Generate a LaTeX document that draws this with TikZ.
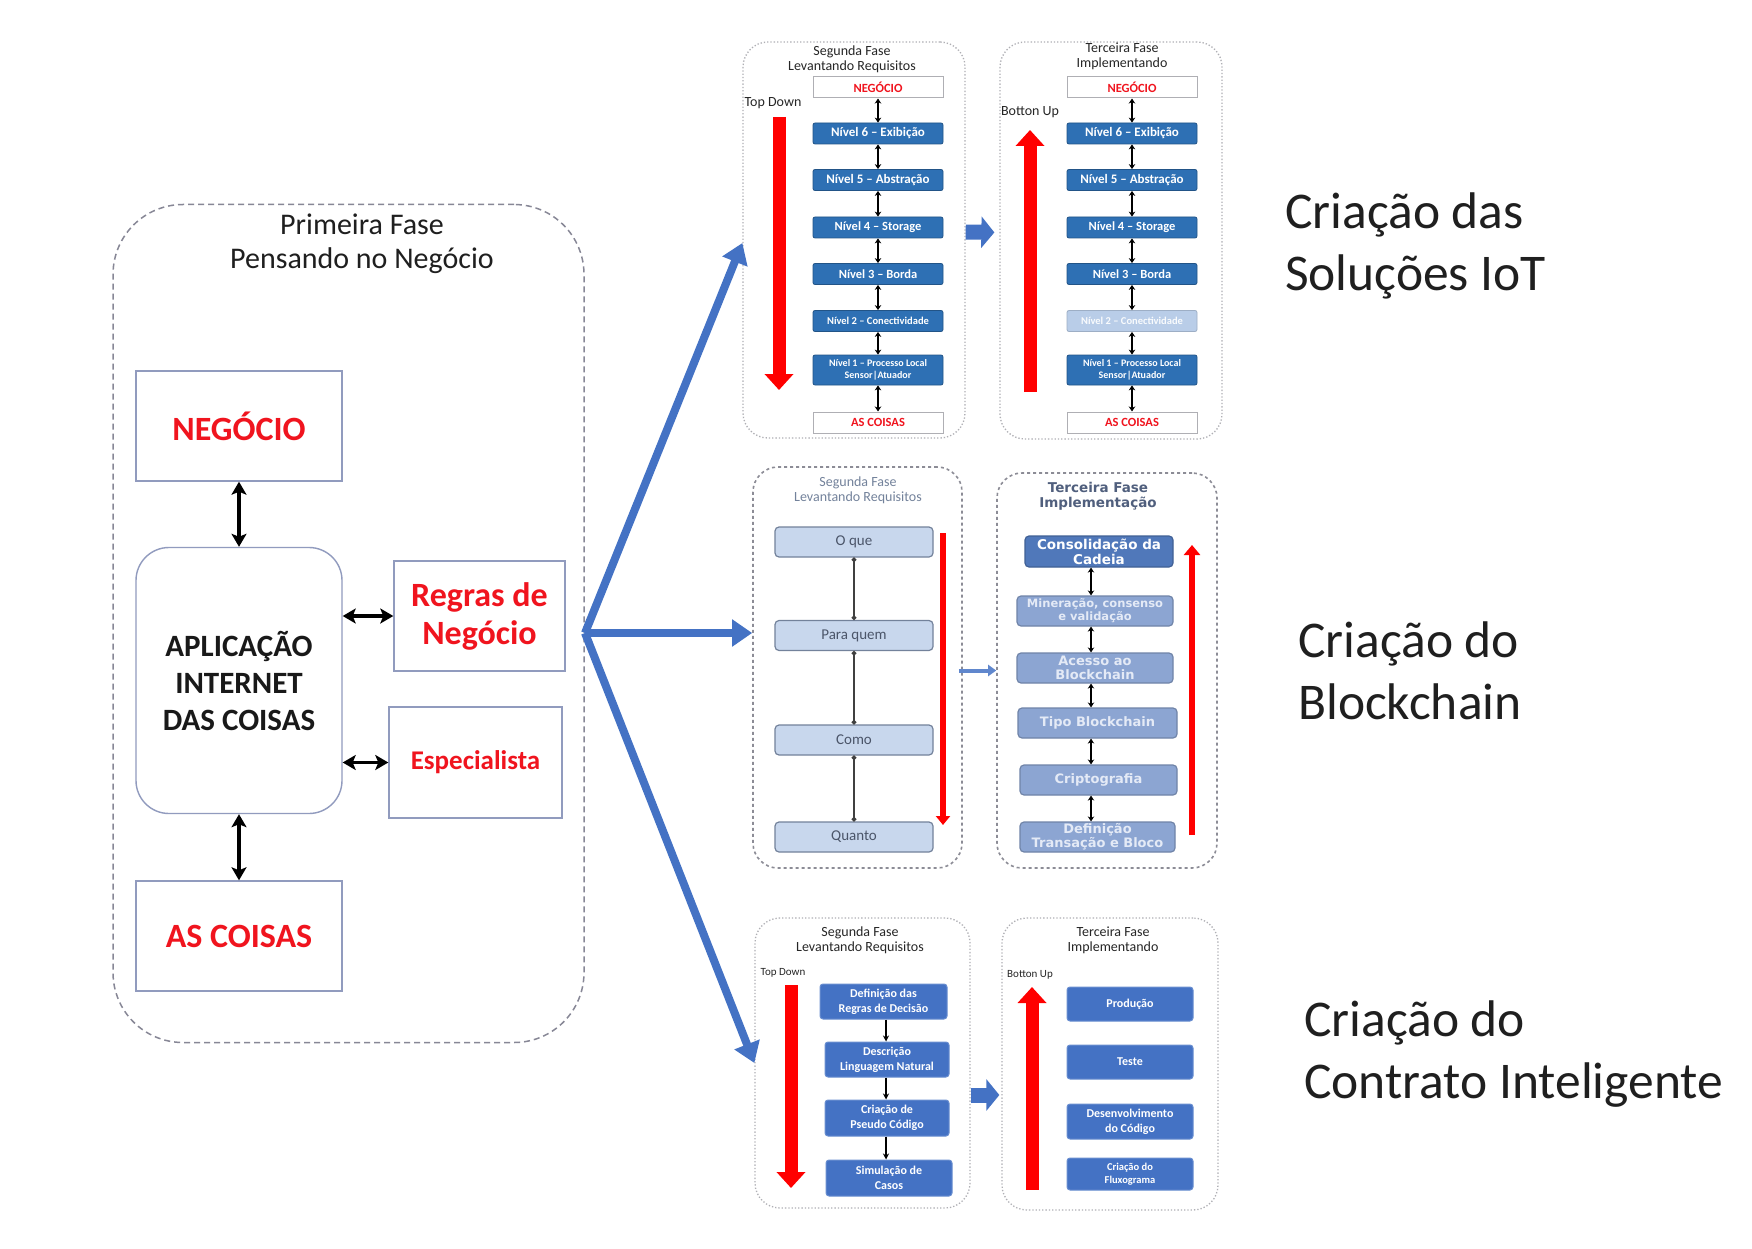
\documentclass[tikz,border=0pt]{standalone}
\usepackage{fontspec}
\setmainfont{Carlito}
\newfontfamily\dvs{DejaVu Sans}
\usetikzlibrary{arrows.meta,calc}
\newcommand\fsz[2]{\fontsize{#1}{#2}\selectfont}
\definecolor{redt}{RGB}{240,20,30}
\definecolor{redA}{RGB}{255,0,0}
\definecolor{lbord}{RGB}{145,155,190}
\definecolor{bigdash}{RGB}{135,135,150}
\definecolor{pgray}{RGB}{175,175,180}
\definecolor{pgrayD}{RGB}{140,140,150}
\definecolor{fanblue}{RGB}{68,114,196}
\definecolor{nblue}{RGB}{46,112,180}
\definecolor{nfade}{RGB}{185,205,232}
\definecolor{gblue}{RGB}{68,114,196}
\definecolor{cfill}{RGB}{200,215,237}
\definecolor{cdraw}{RGB}{115,130,155}
\definecolor{ctext}{RGB}{75,85,105}
\definecolor{efill}{RGB}{80,120,186}
\definecolor{efade}{RGB}{140,165,210}
\definecolor{etext}{RGB}{228,234,246}
\definecolor{ttl4}{RGB}{80,95,125}
\begin{document}
\begin{tikzpicture}[x=1pt,y=-1pt,
  bigpanel/.style={draw=bigdash, dash pattern=on 6pt off 4pt, line width=1.5pt, rounded corners=70pt, inner sep=0pt},
  lbox/.style={draw=lbord, line width=1.4pt, inner sep=0pt, align=center, text=redt},
  barrow/.style={line width=3.5pt, {Stealth[length=13pt,width=15pt,inset=3pt]}-{Stealth[length=13pt,width=15pt,inset=3pt]}},
  fanarrow/.style={draw=fanblue, line width=8pt, -{Triangle[length=20pt,width=26pt]}},
  blockarrow/.style={draw=fanblue, line width=15pt, -{Triangle[length=13pt,width=31pt]}},
  thinblue/.style={draw=fanblue!85, line width=4pt, -{Triangle[length=8pt,width=11pt]}},
  panelL/.style={draw=pgray, dotted, line width=1.3pt, rounded corners=25pt, inner sep=0pt},
  panelD/.style={draw=pgrayD, dash pattern=on 3pt off 3pt, line width=1.6pt, rounded corners=25pt, inner sep=0pt},
  ttl/.style={align=center, font=\fsz{14}{15}, text=black!85, inner sep=0pt},
  lbl/.style={font=\fsz{14}{15}, text=black!85, inner sep=0pt},
  nbox/.style={fill=nblue, draw=nblue!75!black, line width=0.8pt, rounded corners=2pt, text=white, font=\bfseries\fsz{13}{14}, align=center, inner sep=0pt, minimum width=130pt, minimum height=21pt},
  wbox/.style={fill=white, draw=pgray, line width=1pt, text=redt, font=\bfseries\fsz{12.5}{14}, inner sep=0pt, minimum width=130pt, minimum height=21pt},
  sarrow/.style={line width=2pt, {Stealth[length=5pt,width=6.5pt]}-{Stealth[length=5pt,width=6.5pt]}},
  redbig/.style={draw=redA, line width=13pt, -{Triangle[length=16pt,width=28pt]}},
  redthin/.style={draw=redA, line width=6pt, -{Triangle[length=9pt,width=14pt]}},
  cbox/.style={fill=cfill, draw=cdraw, line width=1.2pt, rounded corners=4pt, text=ctext, font=\fsz{15}{16}, inner sep=0pt, minimum width=158pt, minimum height=30pt},
  dotline/.style={draw=black!75, line width=1.8pt, {Circle[length=4.5pt]}-{Circle[length=4.5pt]}},
  ebox/.style={fill=efade, draw=efade!80!black, line width=1.2pt, rounded corners=4pt, text=etext, font=\dvs\bfseries\fsz{13}{14}, align=center, inner sep=0pt, minimum height=30pt},
  gbox/.style={fill=gblue, draw=gblue!80!white, line width=1pt, rounded corners=3pt, text=white, font=\bfseries\fsz{12}{15}, align=center, inner sep=0pt},
  darrow/.style={line width=1.8pt, -{Stealth[length=6pt,width=6pt]}},
  rtxt/.style={font=\fsz{51.5}{62}, align=left, inner sep=0pt, text=black!88, anchor=west}
]
\fill[white] (0,0) rectangle (1752,1249);
\useasboundingbox (0,0) rectangle (1752,1249);

% ---------- first phase ----------
\node[bigpanel, minimum width=471pt, minimum height=838pt] (p0) at (348.5,623.5) {};
\node[align=center, font=\fsz{30}{34}, text=black!88, inner sep=0pt] (t0) at (362,244) {Primeira Fase\\Pensando no Negócio};
\node[lbox, font=\bfseries\fsz{34}{38}, minimum width=206pt, minimum height=110pt] (neg) at (239,426) {NEGÓCIO};
\node[lbox, rounded corners=33pt, text=black!90, font=\bfseries\fsz{31}{37}, minimum width=206pt, minimum height=266pt] (app) at (239,680.5) {APLICAÇÃO\\INTERNET\\DAS COISAS};
\node[lbox, font=\bfseries\fsz{34}{38}, minimum width=171pt, minimum height=110pt] (reg) at (479.5,616) {Regras de\\Negócio};
\node[lbox, font=\bfseries\fsz{27}{30}, minimum width=173pt, minimum height=111pt] (esp) at (475.5,762.5) {Especialista};
\node[lbox, font=\bfseries\fsz{34}{38}, minimum width=206pt, minimum height=110pt] (coi) at (239,936) {AS COISAS};
\draw[barrow] (neg) -- (app);
\draw[barrow] (app.east |- reg.west) -- (reg.west);
\draw[barrow] (app.east |- esp.west) -- (esp.west);
\draw[barrow] (app) -- (coi);

% ---------- panel 1 ----------
\node[panelL, minimum width=222pt, minimum height=396pt] (p1) at (854,240) {};
\node[ttl] (p1t) at (852,59.5) {Segunda Fase\\Levantando Requisitos};
\node[lbl] (p1l) at (773,103) {Top Down};
\coordinate (p1a) at (779,117); \coordinate (p1b) at (779,390);
\draw[redbig] (p1a) -- (p1b);
\node[wbox] (a0) at (878,87.5) {NEGÓCIO};
\node[nbox] (a6) at (878,133.5) {Nível 6 – Exibição};
\node[nbox] (a5) at (878,180) {Nível 5 – Abstração};
\node[nbox, font=\bfseries\fsz{12.5}{14}] (a4) at (878,227.5) {Nível 4 – Storage};
\node[nbox, font=\bfseries\fsz{12.5}{14}] (a3) at (878,274) {Nível 3 – Borda};
\node[nbox, font=\bfseries\fsz{10.5}{12}] (a2) at (878,321) {Nível 2 – Conectividade};
\node[nbox, minimum height=30pt, font=\bfseries\fsz{10}{12}] (a1) at (878,370) {Nível 1 – Processo Local\\Sensor|Atuador};
\node[wbox] (a7) at (878,422.5) {AS COISAS};
\draw[sarrow] (a0) -- (a6);
\draw[sarrow] (a6) -- (a5);
\draw[sarrow] (a5) -- (a4);
\draw[sarrow] (a4) -- (a3);
\draw[sarrow] (a3) -- (a2);
\draw[sarrow] (a2) -- (a1);
\draw[sarrow] (a1) -- (a7);

% ---------- panel 2 ----------
\node[panelL, minimum width=222pt, minimum height=397pt] (p2) at (1111,240.5) {};
\node[ttl] (p2t) at (1122,56) {Terceira Fase\\Implementando};
\node[lbl] (p2l) at (1030,112) {Botton Up};
\coordinate (p2a) at (1030,392); \coordinate (p2b) at (1030,130);
\draw[redbig] (p2a) -- (p2b);
\node[wbox] (b0) at (1132,87.5) {NEGÓCIO};
\node[nbox] (b6) at (1132,133.5) {Nível 6 – Exibição};
\node[nbox] (b5) at (1132,180) {Nível 5 – Abstração};
\node[nbox, font=\bfseries\fsz{12.5}{14}] (b4) at (1132,227.5) {Nível 4 – Storage};
\node[nbox, font=\bfseries\fsz{12.5}{14}] (b3) at (1132,274) {Nível 3 – Borda};
\node[nbox, fill=nfade, draw=nfade!85!black, text=white!92!nfade, font=\bfseries\fsz{10.5}{12}] (b2) at (1132,321) {Nível 2 – Conectividade};
\node[nbox, minimum height=30pt, font=\bfseries\fsz{10}{12}] (b1) at (1132,370) {Nível 1 – Processo Local\\Sensor|Atuador};
\node[wbox] (b7) at (1132,422.5) {AS COISAS};
\draw[sarrow] (b0) -- (b6);
\draw[sarrow] (b6) -- (b5);
\draw[sarrow] (b5) -- (b4);
\draw[sarrow] (b4) -- (b3);
\draw[sarrow] (b3) -- (b2);
\draw[sarrow] (b2) -- (b1);
\draw[sarrow] (b1) -- (b7);

% ---------- panel 3 ----------
\node[panelD, minimum width=209pt, minimum height=401pt] (p3) at (857.5,667.5) {};
\node[ttl, text=cdraw] (p3t) at (858,490) {Segunda Fase\\Levantando Requisitos};
\node[cbox] (c1) at (854,542) {O que};
\node[cbox] (c2) at (854,635.5) {Para quem};
\node[cbox] (c3) at (854,740) {Como};
\node[cbox] (c4) at (854,837) {Quanto};
\draw[dotline] (c1) -- (c2);
\draw[dotline] (c2) -- (c3);
\draw[dotline] (c3) -- (c4);
\coordinate (p3a) at (943,533); \coordinate (p3b) at (943,825);
\draw[redthin] (p3a) -- (p3b);

% ---------- panel 4 ----------
\node[panelD, minimum width=220pt, minimum height=395pt] (p4) at (1107,670.5) {};
\node[align=center, inner sep=0pt, text=ttl4, font=\dvs\bfseries\fsz{13.5}{15}] (p4t) at (1098,496) {Terceira Fase\\Implementação};
\node[ebox, fill=efill, draw=efill!80!black, text=white, font=\dvs\bfseries\fsz{13.5}{15}, minimum width=148pt, minimum height=31pt] (e1) at (1099,551.5) {Consolidação da\\Cadeia};
\node[ebox, font=\dvs\bfseries\fsz{11.5}{13}, minimum width=156pt] (e2) at (1095,611) {Mineração, consenso\\e validação};
\node[ebox, minimum width=156pt] (e3) at (1095,668) {Acesso ao\\Blockchain};
\node[ebox, minimum width=159pt] (e4) at (1097.5,723) {Tipo Blockchain};
\node[ebox, minimum width=157pt] (e5) at (1098.5,780) {Criptografia};
\node[ebox, minimum width=155pt] (e6) at (1097.5,837) {Definição\\Transação e Bloco};
\coordinate (p4x) at (1091,600);
\draw[sarrow] (e1.south -| p4x) -- (e2.north -| p4x);
\draw[sarrow] (e2.south -| p4x) -- (e3.north -| p4x);
\draw[sarrow] (e3.south -| p4x) -- (e4.north -| p4x);
\draw[sarrow] (e4.south -| p4x) -- (e5.north -| p4x);
\draw[sarrow] (e5.south -| p4x) -- (e6.north -| p4x);
\coordinate (p4a) at (1192,835); \coordinate (p4b) at (1192,545);
\draw[redA, line width=6pt, -{Triangle[length=10pt,width=16pt]}] (p4a) -- (p4b);

% ---------- panel 5 ----------
\node[panelL, minimum width=215pt, minimum height=290pt] (p5) at (862.5,1063) {};
\node[ttl] (p5t) at (860,940) {Segunda Fase\\Levantando Requisitos};
\node[lbl, font=\fsz{11}{12}] (p5l) at (783,973) {Top Down};
\coordinate (p5a) at (791,985); \coordinate (p5b) at (791,1188);
\draw[redbig] (p5a) -- (p5b);
\node[gbox, minimum width=127pt, minimum height=35pt] (g1) at (883.5,1001.5) {Definição das\\Regras de Decisão};
\node[gbox, minimum width=124pt, minimum height=35pt] (g2) at (887,1059.5) {Descrição\\Linguagem Natural};
\node[gbox, minimum width=124pt, minimum height=36pt] (g3) at (887,1118) {Criação de\\Pseudo Código};
\node[gbox, minimum width=126pt, minimum height=36pt] (g4) at (889,1178) {Simulação de\\Casos};
\coordinate (p5x) at (886,1000);
\draw[darrow] (g1.south -| p5x) -- (g2.north -| p5x);
\draw[darrow] (g2.south -| p5x) -- (g3.north -| p5x);
\draw[darrow] (g3.south -| p5x) -- (g4.north -| p5x);

% ---------- panel 6 ----------
\node[panelL, minimum width=216pt, minimum height=292pt] (p6) at (1110,1064) {};
\node[ttl] (p6t) at (1113,940.5) {Terceira Fase\\Implementando};
\node[lbl, font=\fsz{11}{12}] (p6l) at (1030,975) {Botton Up};
\coordinate (p6a) at (1032,1190); \coordinate (p6b) at (1032,987);
\draw[redbig] (p6a) -- (p6b);
\node[gbox, minimum width=126pt, minimum height=34pt] (h1) at (1130,1004) {Produção};
\node[gbox, minimum width=126pt, minimum height=34pt] (h2) at (1130,1062) {Teste};
\node[gbox, minimum width=126pt, minimum height=35pt] (h3) at (1130,1121.5) {Desenvolvimento\\do Código};
\node[gbox, minimum width=126pt, minimum height=32pt, font=\bfseries\fsz{10.5}{13}] (h4) at (1130,1174) {Criação do\\Fluxograma};

% ---------- connectors between phases ----------
\coordinate (fan) at (585,633);
\draw[fanarrow] (fan) -- ([yshift=-3pt]p1.west);
\draw[fanarrow] (fan) -- (fan -| p3.west);
\draw[fanarrow] (fan) -- (p5.west);
\draw[blockarrow, shorten >=5pt] ([yshift=8pt]p1.east) -- ([yshift=8pt]p2.west);
\draw[thinblue] ([xshift=-4pt]p3.east |- p4.west) -- (p4.west);
\draw[blockarrow, shorten >=2pt] ([yshift=-32pt]p5.east) -- ([yshift=-31pt]p6.west);

% ---------- right labels ----------
\node[rtxt] (r1) at (1285,246) {Criação das\\Soluções IoT};
\node[rtxt] (r2) at (1298,671) {Criação do\\Blockchain};
\node[rtxt] (r3) at (1304,1054) {Criação do\\Contrato Inteligente};
\end{tikzpicture}
\end{document}
